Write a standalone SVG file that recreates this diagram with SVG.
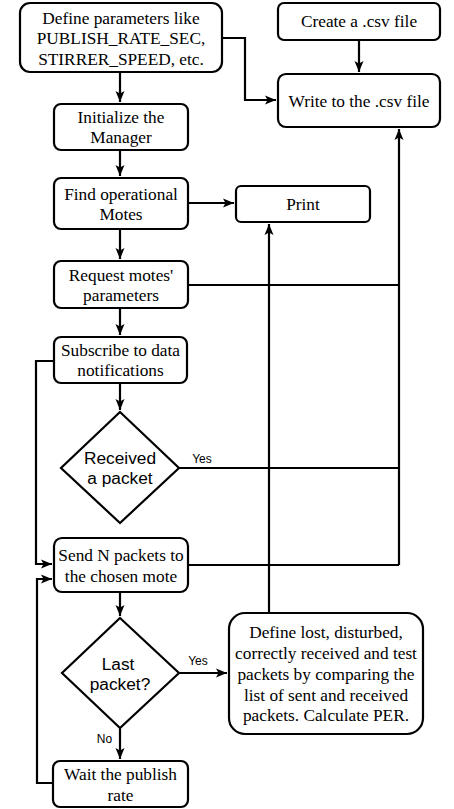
<svg xmlns="http://www.w3.org/2000/svg" width="454" height="809" viewBox="0 0 454 809">
<style>
.box{fill:#fff;stroke:#000;stroke-width:2.2}
.t{font-size:17.3px;fill:#000;text-anchor:middle}
.s{font-family:'Liberation Sans',Arial,sans-serif;font-size:17.3px;fill:#000;text-anchor:middle}
.lbl{font-family:'Liberation Sans',Arial,sans-serif;font-size:12px;fill:#000;text-anchor:middle}
.c{fill:none;stroke:#000;stroke-width:2.2}
</style>
<defs>
<marker id="ah" markerUnits="userSpaceOnUse" markerWidth="12" markerHeight="10" refX="11" refY="5" orient="auto">
<path d="M0,0.5 L11,5 L0,9.5 L2.5,5 Z" fill="#000"/>
</marker>
</defs>
<rect width="454" height="809" fill="#fff"/>
<g id="connectors">
<path class="c" d="M222,38 H245 V100 H276" marker-end="url(#ah)"/>
<path class="c" d="M359,40 V72" marker-end="url(#ah)"/>
<path class="c" d="M120,72 V102" marker-end="url(#ah)"/>
<path class="c" d="M120,150 V176" marker-end="url(#ah)"/>
<path class="c" d="M188,203 H234" marker-end="url(#ah)"/>
<path class="c" d="M120,229 V259" marker-end="url(#ah)"/>
<path class="c" d="M120,308 V335" marker-end="url(#ah)"/>
<path class="c" d="M120,383 V410" marker-end="url(#ah)"/>
<path class="c" d="M269,613 V224" marker-end="url(#ah)"/>
<path class="c" d="M399,565 V129" marker-end="url(#ah)"/>
<path class="c" d="M188,285 H399"/>
<path class="c" d="M179,468 H399"/>
<path class="c" d="M188,565 H399"/>
<path class="c" d="M54,361 H36 V564 H52" marker-end="url(#ah)"/>
<path class="c" d="M54,783 H37 V579 H52" marker-end="url(#ah)"/>
<path class="c" d="M120,592 V616" marker-end="url(#ah)"/>
<path class="c" d="M179,673 H227" marker-end="url(#ah)"/>
<path class="c" d="M120,728 V759" marker-end="url(#ah)"/>
<text class="lbl" x="202" y="463">Yes</text>
<text class="lbl" x="198" y="665">Yes</text>
<text class="lbl" x="104.5" y="743">No</text>
</g>
<g font-family="Liberation Serif, Tinos, Times New Roman, DejaVu Serif, serif">
<g id="define-params">
<rect class="box" x="20" y="3" width="202" height="69" rx="10"/>
<text class="t" x="121" y="23.5">Define parameters like</text>
<text class="t" x="121" y="44">PUBLISH_RATE_SEC,</text>
<text class="t" x="121" y="64.5">STIRRER_SPEED, etc.</text>
</g>
<g id="create-csv">
<rect class="box" x="278" y="3" width="162" height="37" rx="6"/>
<text class="t" x="359" y="27">Create a .csv file</text>
</g>
<g id="write-csv">
<rect class="box" x="278" y="74" width="162" height="53" rx="8"/>
<text class="t" x="359" y="106.5">Write to the .csv file</text>
</g>
<g id="init-manager">
<rect class="box" x="54" y="104" width="134" height="46" rx="7"/>
<text class="t" x="121" y="123">Initialize the</text>
<text class="t" x="121" y="143">Manager</text>
</g>
<g id="find-motes">
<rect class="box" x="54" y="178" width="134" height="51" rx="7"/>
<text class="t" x="121" y="199.5">Find operational</text>
<text class="t" x="121" y="220">Motes</text>
</g>
<g id="print">
<rect class="box" x="236" y="186" width="134" height="36" rx="5"/>
<text class="t" x="303" y="210">Print</text>
</g>
<g id="request-params">
<rect class="box" x="54" y="261" width="134" height="47" rx="7"/>
<text class="t" x="121" y="281">Request motes'</text>
<text class="t" x="121" y="301">parameters</text>
</g>
<g id="subscribe">
<rect class="box" x="54" y="337" width="133" height="46" rx="7"/>
<text class="t" x="120.5" y="355.5">Subscribe to data</text>
<text class="t" x="120.5" y="376">notifications</text>
</g>
<g id="send-packets">
<rect class="box" x="54" y="538" width="134" height="54" rx="8"/>
<text class="t" x="121" y="561">Send N packets to</text>
<text class="t" x="121" y="582">the chosen mote</text>
</g>
<g id="define-lost">
<rect class="box" x="229" y="613" width="194" height="121" rx="16"/>
<text class="t" x="326" y="638">Define lost, disturbed,</text>
<text class="t" x="326" y="659">correctly received and test</text>
<text class="t" x="326" y="679.8">packets by comparing the</text>
<text class="t" x="326" y="700.6">list of sent and received</text>
<text class="t" x="326" y="721.4">packets. Calculate PER.</text>
</g>
<g id="wait-rate">
<rect class="box" x="53" y="761" width="135" height="46" rx="7"/>
<text class="t" x="120.5" y="780">Wait the publish</text>
<text class="t" x="120.5" y="800.5">rate</text>
</g>
</g>
<g id="received-packet">
<path class="box" d="M120,412 L179,468 L120,523 L61,468 Z"/>
<text class="s" x="120" y="463.5">Received</text>
<text class="s" x="120" y="484">a packet</text>
</g>
<g id="last-packet">
<path class="box" d="M120,618 L179,673 L120,728 L62,673 Z"/>
<text class="s" x="118" y="669.5">Last</text>
<text class="s" x="120" y="690">packet?</text>
</g>
</svg>
